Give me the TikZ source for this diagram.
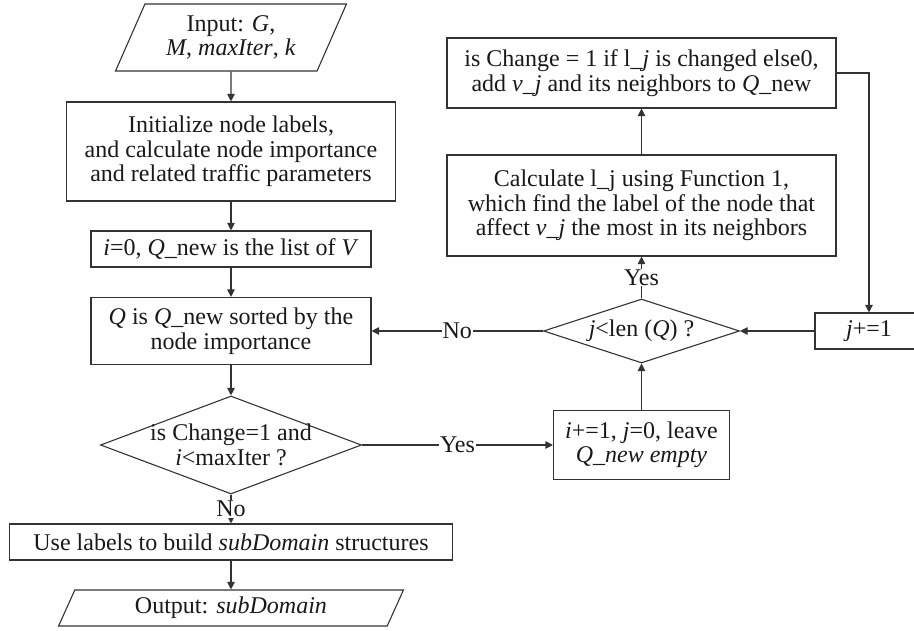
\documentclass[tikz,border=0pt]{standalone}
\usepackage{fontspec}
\setmainfont{Liberation Serif}
\usetikzlibrary{arrows.meta,shapes.geometric}

\begin{document}
\begin{tikzpicture}[x=1pt,y=-1pt,
  font=\fontsize{24}{24.5}\selectfont,
  every node/.style={text=black!90},
  box/.style={draw=black!80,line width=1.1pt,rectangle,align=center,inner sep=2pt},
  io/.style={draw=black!80,line width=1.1pt,trapezium,trapezium stretches=true,align=center,inner sep=1pt},
  decision/.style={draw=black!80,line width=1.1pt,diamond,align=center,inner sep=-8pt},
  flow/.style={draw=black!80,line width=1.1pt,-{Triangle[length=7.5pt,width=7.5pt]}},
  lbl/.style={fill=white,inner sep=1pt}]
\useasboundingbox (0,0) rectangle (914,631);

% main loop, left column
\node[io,minimum width=231pt,minimum height=67pt,trapezium left angle=64,trapezium right angle=116] (in) at (231,37.5) {Input: \textit{G},\\\textit{M}, \textit{maxIter}, \textit{k}};
\node[box,minimum width=329pt,minimum height=99pt] (init) at (231,151.5) {Initialize node labels,\\and calculate node importance\\and related traffic parameters};
\node[box,minimum width=280pt,minimum height=36pt] (start) at (231,249) {\textit{i}=0, \textit{Q}\_new is the list of \textit{V}};
\node[box,minimum width=280pt,minimum height=67pt] (sort) at (231,331) {\textit{Q} is \textit{Q}\_new sorted by the\\node importance};
\node[decision,minimum width=261pt,minimum height=98pt,shape aspect=2.66] (iter) at (231,445) {is Change=1 and\\\textit{i}<maxIter ?};
\node[box,minimum width=443pt,minimum height=36pt] (build) at (231,542) {Use labels to build \textit{subDomain} structures};
\node[io,minimum width=346pt,minimum height=36pt,trapezium left angle=67,trapezium right angle=113] (out) at (231,608) {Output: \textit{subDomain}};

% inner loop over the queue, right column
\node[box,minimum width=389pt,minimum height=70pt] (update) at (641.5,73) {is Change = 1 if l\_\textit{j} is changed else0,\\add \textit{v\_j} and its neighbors to \textit{Q}\_new};
\node[box,minimum width=389pt,minimum height=101pt] (calc) at (641.5,205.5) {Calculate l\_j using Function 1,\\which find the label of the node that\\affect \textit{v\_j} the most in its neighbors};
\node[decision,minimum width=196pt,minimum height=64pt,shape aspect=3.06] (scan) at (641.5,331) {\textit{j}<len (\textit{Q}) ?};
\node[box,minimum width=108pt,minimum height=36pt] (next) at (869,331) {\textit{j}+=1};
\node[box,minimum width=176pt,minimum height=69pt] (reset) at (641.5,445) {\textit{i}+=1, \textit{j}=0, leave\\\textit{Q\_new empty}};

\draw[flow] (in) -- (init);
\draw[flow] (init) -- (start);
\draw[flow] (start) -- (sort);
\draw[flow] (sort) -- (iter);
\draw[flow] (iter) -- node[lbl]{No} (build);
\draw[flow] (build) -- (out);
\draw[flow] (iter) -- node[lbl]{Yes} (reset);
\draw[flow] (reset) -- (scan);
\draw[flow] (scan) -- node[lbl]{Yes} (calc);
\draw[flow] (calc) -- (update);
\draw[flow] (update) -| (next);
\draw[flow] (next) -- (scan);
\draw[flow] (scan) -- node[lbl]{No} (sort);
\end{tikzpicture}
\end{document}
